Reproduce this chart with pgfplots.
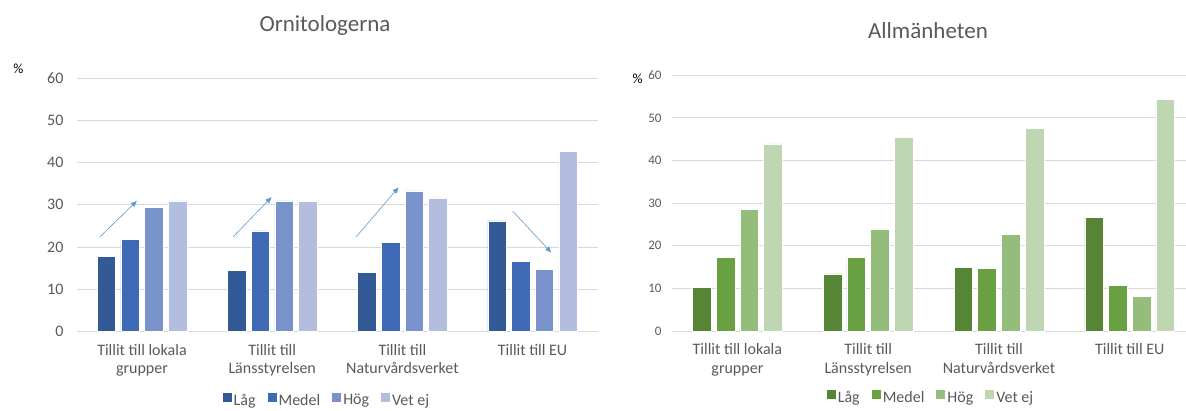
\documentclass[border=0pt]{standalone}
\usepackage{pgfplots}
\pgfplotsset{compat=1.18}
\usepackage{fontspec}
\setmainfont{Carlito}
\usetikzlibrary{arrows.meta}
\definecolor{bA}{HTML}{335A96}
\definecolor{bB}{HTML}{3F6AB5}
\definecolor{bC}{HTML}{7A92CC}
\definecolor{bD}{HTML}{B3BEDF}
\definecolor{gA}{HTML}{568536}
\definecolor{gB}{HTML}{69A042}
\definecolor{gC}{HTML}{94BC7A}
\definecolor{gD}{HTML}{BFD6B2}
\definecolor{gridgray}{HTML}{D9D9D9}
\definecolor{textgray}{HTML}{595959}
\definecolor{arrowblue}{HTML}{5B9BD5}
\pgfplotsset{
  common/.style={
    anchor=south west, scale only axis,
    xmin=-0.5, ymin=0, ymax=60,
    ytick={0,10,...,60},
    xtick={0,1,2,3},
    xticklabels={{Tillit till lokala\\grupper},{Tillit till\\Länsstyrelsen},{Tillit till\\Naturvårdsverket},{Tillit till EU}},
    xticklabel style={align=center, font=\fontsize{16}{18.5}\selectfont, text=textgray, yshift=-9pt},
    axis line style={draw=none},
    ymajorgrids, grid style={color=gridgray, line width=0.9pt},
    major tick length=0pt,
    /pgf/number format/assume math mode=true,
    legend columns=4,
    legend style={draw=none, fill=none, font=\fontsize{16}{19}\selectfont, text=textgray,
      /tikz/every even column/.append style={column sep=10pt}, inner sep=0pt,
      nodes={inner sep=2pt}},
  },
  sqlegend/.style={
    legend image code/.code={\fill[##1,draw=none] (0pt,-1.5pt) rectangle (9pt,7.5pt);},
  }
}
\begin{document}
\begin{tikzpicture}[x=1pt,y=1pt]
\useasboundingbox (0,0) rectangle (1186,410);
\node[anchor=base, font=\fontsize{23}{28}\selectfont, text=textgray] at (325,378.3) {Ornitologerna};
\node[anchor=base, font=\fontsize{23}{28}\selectfont, text=textgray] at (928,371.7) {Allmänheten};
\node[font=\fontsize{14}{16}\selectfont] at (18.5,341) {\%};
\node[font=\fontsize{14}{16}\selectfont] at (637.6,331) {\%};
\begin{axis}[common,
  at={(76.9pt,78.5pt)}, width=520.8pt, height=253.5pt, xmax=3.5,
  yticklabel style={font=\fontsize{16}{19}\selectfont, text=textgray, xshift=-10pt},
  ybar=5.2pt, bar width=18.5pt, sqlegend,
  legend style={at={(0.48,-0.272)}, anchor=center},
]
\addplot[fill=bA, draw=white, line width=0.6pt] coordinates {(0,17.8) (1,14.5) (2,13.9) (3,26.2)};
\addplot[fill=bB, draw=white, line width=0.6pt] coordinates {(0,21.8) (1,23.8) (2,21.0) (3,16.5)};
\addplot[fill=bC, draw=white, line width=0.6pt] coordinates {(0,29.4) (1,30.9) (2,33.3) (3,14.7)};
\addplot[fill=bD, draw=white, line width=0.6pt] coordinates {(0,30.9) (1,30.7) (2,31.6) (3,42.7)};
\legend{Låg,Medel,Hög,Vet ej}
\draw[-{Triangle[length=6pt,width=5pt]}, color=arrowblue, line width=0.6pt] (axis cs:-0.323,22.4) -- (axis cs:-0.04,30.9);
\draw[-{Triangle[length=6pt,width=5pt]}, color=arrowblue, line width=0.6pt] (axis cs:0.70,22.4) -- (axis cs:0.995,31.8);
\draw[-{Triangle[length=6pt,width=5pt]}, color=arrowblue, line width=0.6pt] (axis cs:1.645,22.4) -- (axis cs:1.97,34.1);
\draw[-{Triangle[length=6pt,width=5pt]}, color=arrowblue, line width=0.6pt] (axis cs:2.847,28.5) -- (axis cs:3.143,18.7);
\end{axis}
\begin{axis}[common,
  at={(672pt,79pt)}, width=514pt, height=255.7pt, xmax=3.43,
  yticklabel style={font=\fontsize{13}{15}\selectfont, text=textgray, xshift=-7pt},
  ybar=5pt, bar width=18.7pt, sqlegend,
  legend style={at={(0.504,-0.262)}, anchor=center},
]
\addplot[fill=gA, draw=white, line width=0.6pt] coordinates {(0,10.2) (1,13.4) (2,15.0) (3,26.6)};
\addplot[fill=gB, draw=white, line width=0.6pt] coordinates {(0,17.2) (1,17.2) (2,14.7) (3,10.7)};
\addplot[fill=gC, draw=white, line width=0.6pt] coordinates {(0,28.6) (1,23.9) (2,22.6) (3,8.2)};
\addplot[fill=gD, draw=white, line width=0.6pt] coordinates {(0,43.9) (1,45.5) (2,47.6) (3,54.3)};
\legend{Låg,Medel,Hög,Vet ej}
\end{axis}
\end{tikzpicture}
\end{document}
